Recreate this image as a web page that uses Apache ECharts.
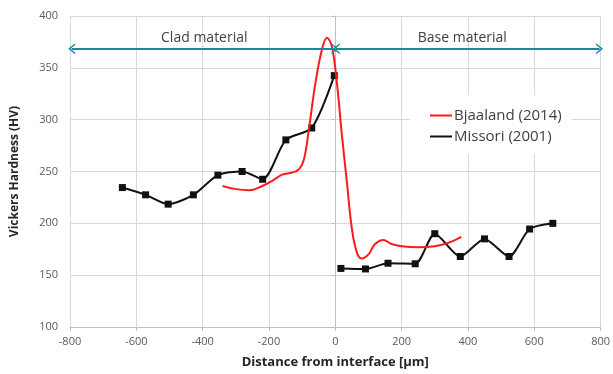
<!DOCTYPE html>
<html>
<head>
<meta charset="utf-8">
<script src="https://cdn.jsdelivr.net/npm/echarts@6/dist/echarts.min.js"></script>
<style>
  html, body { margin: 0; padding: 0; background: #fff; }
  #chart { width: 613px; height: 374px; }
</style>
</head>
<body>
<div id="chart"></div>
<script>
// Missori (2001): measured points [distance, HV], clad side and base side drawn apart
var missoriCladX = [-642, -572, -504, -428, -354, -281, -219, -149, -71, -3];
var missoriCladY = [234.5, 227.5, 218.5, 227.5, 246.5, 250, 242.5, 280.5, 292, 342.5];
var missoriBaseX = [17, 91, 159, 241, 300, 377, 450, 524, 586, 656];
var missoriBaseY = [156.5, 156, 161.5, 161, 190, 168, 185, 168, 194.5, 200];

// Bjaaland (2014): curve
var bjaalandX = [-340, -300, -260, -220, -190, -160, -130, -110, -95, -80, -60, -40, -25, -10, 5, 20, 35, 50, 65, 80, 100, 120, 145, 170, 200, 250, 300, 340, 380];
var bjaalandY = [236, 233, 232, 236, 241, 247, 249, 252, 261, 290, 335, 368, 379, 370, 335, 285, 240, 195, 172, 166, 170, 180, 184, 180, 178, 177, 178, 181, 187];

// zone arrows and labels
var arrowY = 368.5;
var zones = [
    { name: 'Clad material', from: -795, to: -1, labelX: -395 },
    { name: 'Base material', from: 3, to: 797, labelX: 383 }
];
var zoneLabelY = 378.5;

var chevron = 'path://M0,10 L5,0 L10,10 L8.4,10 L5,3.2 L1.6,10 Z';
var teal = '#1b88a0';

var chart = echarts.init(document.getElementById('chart'));

function pairs(xs, ys) {
    return xs.map(function (x, i) { return [x, ys[i]]; });
}

function missoriSeries(xs, ys) {
    return {
        name: 'Missori (2001)',
        type: 'line',
        data: pairs(xs, ys),
        smooth: 0.25,
        symbol: 'rect',
        symbolSize: 7,
        color: '#111',
        itemStyle: { color: '#111' },
        lineStyle: { width: 2, color: '#111' },
        z: 2
    };
}

var cladSeries = missoriSeries(missoriCladX, missoriCladY);
cladSeries.markLine = {
    silent: true,
    symbol: [chevron, chevron],
    symbolSize: [11, 7],
    lineStyle: { color: teal, width: 2, type: 'solid' },
    label: { show: false },
    data: zones.map(function (z) {
        return [{ coord: [z.from, arrowY] }, { coord: [z.to, arrowY] }];
    })
};
cladSeries.markPoint = {
    silent: true,
    symbol: 'circle',
    symbolSize: 0,
    label: {
        show: true,
        position: 'inside',
        fontSize: 14,
        color: '#404040',
        formatter: function (p) { return p.name; }
    },
    data: zones.map(function (z) {
        return { name: z.name, coord: [z.labelX, zoneLabelY] };
    })
};

var option = {
    animation: false,
    textStyle: { fontFamily: 'Open Sans' },
    grid: { left: 70, right: 9, top: 16, bottom: 47 },
    legend: {
        orient: 'vertical',
        left: 410,
        top: 95,
        width: 163,
        padding: [13, 10, 10, 20],
        backgroundColor: '#fff',
        itemWidth: 22,
        itemHeight: 2,
        itemGap: 6,
        icon: 'rect',
        textStyle: { fontSize: 15, color: '#404040', padding: [0, 0, 0, -3] },
        data: ['Bjaaland (2014)', 'Missori (2001)']
    },
    xAxis: {
        type: 'value',
        min: -800,
        max: 800,
        interval: 200,
        name: 'Distance from interface [µm]',
        nameLocation: 'middle',
        nameGap: 29,
        nameTextStyle: { fontSize: 13, fontWeight: 'bold', color: '#262626' },
        axisLine: { onZero: false, lineStyle: { color: '#bfbfbf' } },
        axisTick: { show: true, length: 4, lineStyle: { color: '#bfbfbf' } },
        axisLabel: { fontSize: 11, color: '#595959', margin: 9 },
        splitLine: { show: true, lineStyle: { color: '#d9d9d9' } }
    },
    yAxis: {
        type: 'value',
        min: 100,
        max: 400,
        interval: 50,
        name: 'Vickers Hardness (HV)',
        nameLocation: 'middle',
        nameGap: 49,
        nameTextStyle: { fontSize: 12, fontWeight: 'bold', color: '#262626' },
        axisLine: { show: true, lineStyle: { color: '#bfbfbf' } },
        axisTick: { show: true, length: 4, lineStyle: { color: '#bfbfbf' } },
        axisLabel: { fontSize: 11, color: '#595959', margin: 12 },
        splitLine: { show: true, lineStyle: { color: '#d9d9d9' } }
    },
    series: [
        {
            name: 'Bjaaland (2014)',
            type: 'line',
            data: pairs(bjaalandX, bjaalandY),
            smooth: 0.4,
            showSymbol: false,
            symbol: 'none',
            color: '#ff1a1a',
            lineStyle: { width: 2, color: '#ff1a1a' },
            z: 3
        },
        cladSeries,
        missoriSeries(missoriBaseX, missoriBaseY)
    ]
};

chart.setOption(option);
</script>
</body>
</html>
